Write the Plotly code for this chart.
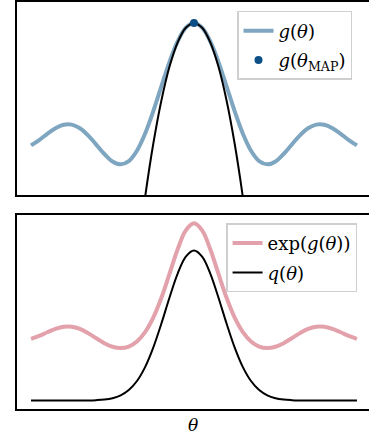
import plotly.graph_objects as go

# ---- data ----
theta = [-10.0, -9.5, -9.0, -8.5, -8.0, -7.5, -7.0, -6.5, -6.0, -5.5, -5.0, -4.5, -4.0, -3.5, -3.0,
         -2.5, -2.0, -1.5, -1.0, -0.5, 0.0, 0.5, 1.0, 1.5, 2.0, 2.5, 3.0, 3.5, 4.0, 4.5, 5.0,
         5.5, 6.0, 6.5, 7.0, 7.5, 8.0, 8.5, 9.0, 9.5, 10.0]
g_half = [1.000, 0.959, 0.841, 0.665, 0.455, 0.239, 0.047, -0.100, -0.189, -0.217, -0.192,
          -0.128, -0.047, 0.033, 0.094, 0.125, 0.124, 0.094, 0.046, -0.008, -0.054]
g_vals = g_half[::-1] + g_half[1:]

expg_half = [2.718, 2.609, 2.320, 1.945, 1.576, 1.270, 1.048, 0.905, 0.828, 0.805, 0.825,
             0.880, 0.955, 1.034, 1.098, 1.133, 1.132, 1.098, 1.047, 0.992, 0.947]
expg_vals = expg_half[::-1] + expg_half[1:]

q_half = [2.300, 2.206, 1.947, 1.581, 1.181, 0.812, 0.513, 0.299, 0.160, 0.079, 0.036,
          0.015, 0.006, 0.002, 0.001, 0.000, 0.000, 0.000, 0.000, 0.000, 0.000]
q_vals = q_half[::-1] + q_half[1:]

theta_lap = [-3.5, -3.0, -2.5, -2.0, -1.5, -1.0, -0.5, 0.0, 0.5, 1.0, 1.5, 2.0, 2.5, 3.0, 3.5]
lap_vals = [-1.042, -0.500, -0.042, 0.333, 0.625, 0.833, 0.958, 1.000, 0.958, 0.833, 0.625,
            0.333, -0.042, -0.500, -1.042]

theta_map = [0.0]
g_map = [1.0]

# ---- styles ----
BLUE = "#7fa6c1"
DARKBLUE = "#0b4f86"
PINK = "#e3a1ab"
FONT = "DejaVu Serif"
FS = 18

fig = go.Figure()
fig.add_trace(go.Scatter(x=theta, y=g_vals, mode="lines", line=dict(color=BLUE, width=4, shape="spline"),
                         name="<i>g</i>(<i>θ</i>)", xaxis="x", yaxis="y", legend="legend", legendgroup="a"))
fig.add_trace(go.Scatter(x=theta_lap, y=lap_vals, mode="lines", line=dict(color="black", width=2, shape="spline"),
                         showlegend=False, xaxis="x", yaxis="y"))
fig.add_trace(go.Scatter(x=theta_map, y=g_map, mode="markers", marker=dict(color=DARKBLUE, size=8),
                         name="<i>g</i>(<i>θ</i><sub>MAP</sub>)", xaxis="x", yaxis="y", legend="legend",
                         legendgroup="b"))

fig.add_trace(go.Scatter(x=theta, y=expg_vals, mode="lines", line=dict(color=PINK, width=4, shape="spline"),
                         name="exp(<i>g</i>(<i>θ</i>))", xaxis="x2", yaxis="y2", legend="legend2",
                         legendgroup="c"))
fig.add_trace(go.Scatter(x=theta, y=q_vals, mode="lines", line=dict(color="black", width=2, shape="spline"),
                         name="<i>q</i>(<i>θ</i>)", xaxis="x2", yaxis="y2", legend="legend2", legendgroup="d"))

ax_common = dict(showgrid=False, zeroline=False, showticklabels=False, ticks="",
                 showline=True, linecolor="black", linewidth=2)
xr = [-10.86, 10.74]
fig.update_layout(
    width=369, height=441,
    margin=dict(l=17, r=0, t=2, b=32),
    plot_bgcolor="white", paper_bgcolor="white",
    font=dict(family=FONT, size=FS, color="black"),
    xaxis=dict(**ax_common, range=xr, mirror=True, anchor="y"),
    yaxis=dict(**ax_common, range=[-0.48, 1.18], domain=[0.526, 1.0], anchor="x"),
    xaxis2=dict(**ax_common, range=xr, mirror=True, anchor="y2"),
    yaxis2=dict(**ax_common, range=[-0.13, 2.848], domain=[0.0, 0.477], anchor="x2"),
    legend=dict(x=0.625, y=0.978, xanchor="left", yanchor="top", bgcolor="white",
                bordercolor="#cfcfcf", borderwidth=1.5, tracegroupgap=3,
                font=dict(family=FONT, size=FS)),
    legend2=dict(x=0.594, y=0.456, xanchor="left", yanchor="top", bgcolor="white",
                 bordercolor="#cfcfcf", borderwidth=1.5, tracegroupgap=3,
                 font=dict(family=FONT, size=FS)),
    annotations=[dict(text="<i>θ</i>", x=0.5, y=-0.039, xref="paper", yref="paper",
                      xanchor="center", yanchor="middle", showarrow=False,
                      font=dict(family=FONT, size=17))],
)

fig.write_html("out.html", config={"displayModeBar": False},
               post_script="document.body.style.margin='0';document.body.style.overflow='hidden';")
